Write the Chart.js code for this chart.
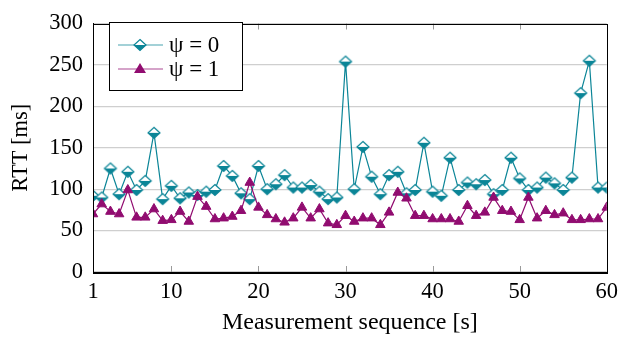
<!DOCTYPE html>
<html><head><meta charset="utf-8">
<script src="https://cdn.jsdelivr.net/npm/chart.js@4/dist/chart.umd.min.js"></script>
<style>html,body{margin:0;padding:0;background:#fff;} canvas{display:block;}</style>
</head><body>
<canvas id="c" width="625" height="337"></canvas>
<script>
const seconds = [1,2,3,4,5,6,7,8,9,10,11,12,13,14,15,16,17,18,19,20,21,22,23,24,25,26,27,28,29,30,31,32,33,34,35,36,37,38,39,40,41,42,43,44,45,46,47,48,49,50,51,52,53,54,55,56,57,58,59,60];
const rttPsi0 = [92,90,125,94,121,99,110,168,88,104,89,96,93,97,99,128,116,95,88,128,100,106,117,102,102,105,97,88,90,254,100,151,115,94,117,121,95,99,156,97,92,138,99,108,106,111,94,99,138,113,99,102,114,107,99,114,216,255,102,102];
const rttPsi1 = [70,82,73,70,99,66,66,76,62,63,73,61,91,79,64,65,67,74,108,78,69,64,60,65,78,65,76,59,57,68,61,65,65,57,72,96,89,68,68,64,64,64,61,80,68,72,90,74,73,63,90,65,74,69,71,63,63,64,64,78];
const xTicks = [1,10,20,30,40,50,60];
const yTicks = [0,50,100,150,200,250,300];
const seriesLabels = ['ψ = 0','ψ = 1'];
const xTitle = 'Measurement sequence [s]';
const yTitle = 'RTT [ms]';

const TEAL = '#0b8597';
const PURPLE = '#910c70';
const FONT = 'Liberation Serif';

function halfDiamond(color){
  const s=16, c=document.createElement('canvas'); c.width=s; c.height=s;
  const g=c.getContext('2d'); const cx=8, cy=8, w=6, h=5.5;
  g.beginPath(); g.moveTo(cx-w,cy); g.lineTo(cx,cy+h); g.lineTo(cx+w,cy); g.closePath(); g.fillStyle=color; g.fill();
  g.beginPath(); g.moveTo(cx-w,cy); g.lineTo(cx,cy-h); g.lineTo(cx+w,cy); g.closePath(); g.fillStyle='#fff'; g.fill();
  g.beginPath(); g.moveTo(cx,cy-h); g.lineTo(cx+w,cy); g.lineTo(cx,cy+h); g.lineTo(cx-w,cy); g.closePath();
  g.strokeStyle=color; g.lineWidth=1.2; g.stroke();
  return c;
}
const diamondImg = halfDiamond(TEAL);

function pts(vals){ return seconds.map((s,i)=>({x:s,y:vals[i]})); }

const boxPlugin = {
  id:'box',
  beforeDatasetsDraw(chart){
    const {ctx, chartArea:a, scales:{x}} = chart;
    ctx.save();
    ctx.strokeStyle='#9a9a9a'; ctx.lineWidth=1;
    xTicks.forEach(v=>{
      if(v===1||v===60) return;
      const px=Math.round(x.getPixelForValue(v))+0.5;
      ctx.beginPath(); ctx.moveTo(px,a.bottom); ctx.lineTo(px,a.bottom-6); ctx.stroke();
      ctx.beginPath(); ctx.moveTo(px,a.top); ctx.lineTo(px,a.top+6); ctx.stroke();
    });
    ctx.restore();
  },
  afterDraw(chart){
    const {ctx, chartArea:a} = chart;
    ctx.save();
    ctx.strokeStyle='#000'; ctx.lineWidth=1;
    ctx.strokeRect(Math.round(a.left)+0.5, Math.round(a.top)+0.5, Math.round(a.right-a.left), Math.round(a.bottom-a.top));
    // legend
    const lx=109.5, ly=22.5, lw=133, lh=68;
    ctx.fillStyle='#fff'; ctx.fillRect(lx,ly,lw,lh);
    ctx.strokeRect(lx,ly,lw,lh);
    const rows=[{y:45,color:TEAL,label:seriesLabels[0],m:'d'},{y:69,color:PURPLE,label:seriesLabels[1],m:'t'}];
    rows.forEach(r=>{
      ctx.strokeStyle=r.color; ctx.globalAlpha=0.75; ctx.lineWidth=1.2;
      ctx.beginPath(); ctx.moveTo(118,r.y); ctx.lineTo(163,r.y); ctx.stroke();
      ctx.globalAlpha=1;
      if(r.m==='d'){ ctx.drawImage(diamondImg,140-8,r.y-8); }
      else {
        ctx.fillStyle=r.color; ctx.beginPath(); ctx.moveTo(140,r.y-6); ctx.lineTo(146,r.y+4); ctx.lineTo(134,r.y+4); ctx.closePath(); ctx.fill();
      }
      ctx.fillStyle='#000'; ctx.font='23px "'+FONT+'"'; ctx.textBaseline='middle'; ctx.textAlign='left';
      ctx.fillText(r.label,169,r.y+1);
    });
    ctx.restore();
  }
};

new Chart(document.getElementById('c'), {
  type:'line',
  data:{datasets:[
    {label:seriesLabels[0], data:pts(rttPsi0), borderColor:TEAL, backgroundColor:TEAL, borderWidth:1.2,
     pointStyle:diamondImg, pointRadius:6, order:1, tension:0},
    {label:seriesLabels[1], data:pts(rttPsi1), borderColor:PURPLE, backgroundColor:PURPLE, borderWidth:1.2,
     pointStyle:'triangle', pointRadius:5.5, pointBorderWidth:1, order:0, tension:0}
  ]},
  options:{
    responsive:false, animation:false, devicePixelRatio:1,
    layout:{padding:{top:15,right:13,left:0,bottom:0}},
    plugins:{legend:{display:false}, tooltip:{enabled:false}},
    scales:{
      x:{type:'linear', min:1, max:60,
        afterBuildTicks:s=>{s.ticks=xTicks.map(v=>({value:v}));},
        afterFit:s=>{s.height=65;},
        grid:{drawOnChartArea:false, drawTicks:false},
        border:{color:'#000', width:1},
        ticks:{color:'#000', font:{family:FONT,size:22.5}, padding:7, maxRotation:0, autoSkip:false},
        title:{display:true, text:xTitle, color:'#000', font:{family:FONT,size:24}, padding:{top:2,bottom:0}}
      },
      y:{min:0, max:300,
        afterBuildTicks:s=>{s.ticks=yTicks.map(v=>({value:v}));},
        afterFit:s=>{s.width=93;},
        grid:{color:'#cfcfcf', lineWidth:1.3, drawTicks:false},
        border:{color:'#000', width:1},
        ticks:{color:'#000', font:{family:FONT,size:22.5}, padding:10},
        title:{display:true, text:yTitle, color:'#000', font:{family:FONT,size:22.5}, padding:{top:8,bottom:0}}
      }
    }
  },
  plugins:[boxPlugin]
});
</script>
</body></html>
